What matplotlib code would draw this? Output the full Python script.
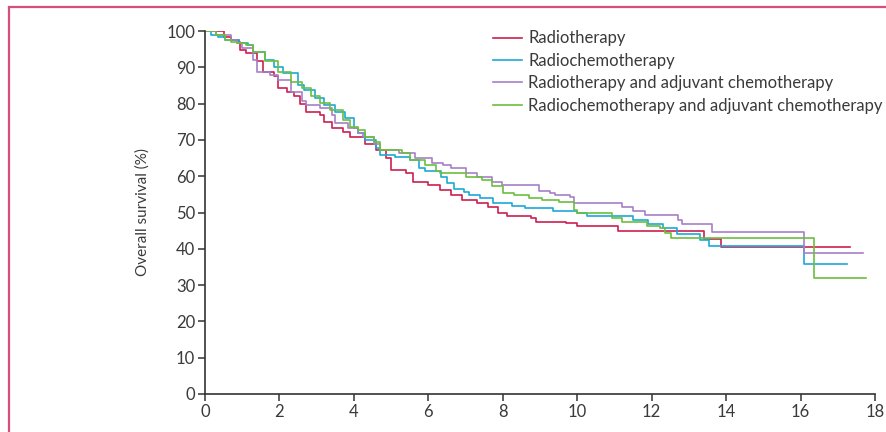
import matplotlib
matplotlib.use("Agg")
import matplotlib.pyplot as plt
from matplotlib.patches import Rectangle

# Kaplan-Meier step curves: time (years) where each level starts, survival (%)
rt_time = [0, 0.5, 0.7, 0.9, 0.95, 1.1, 1.4, 1.55, 1.85, 1.95, 2.2, 2.4, 2.55, 2.7,
           3.1, 3.2, 3.4, 3.7, 3.9, 4.3, 4.6, 4.85, 5.0, 5.4, 5.6, 6.0, 6.3, 6.6,
           6.9, 7.3, 7.6, 7.87, 8.1, 8.75, 8.9, 9.7, 10.0, 11.1, 13.4, 13.87, 17.34]
rt_surv = [100, 98.4, 97.5, 97.0, 94.8, 93.9, 91.6, 88.8, 87.5, 84.2, 83.3, 82.0, 80.0, 77.8,
           76.9, 75.0, 73.2, 72.3, 70.9, 69.0, 67.2, 64.9, 61.7, 60.8, 58.5, 57.6, 56.2, 54.8,
           53.4, 52.5, 51.6, 49.8, 48.9, 48.4, 47.5, 47.0, 46.3, 45.0, 42.6, 40.4, 40.4]

rct_time = [0, 0.15, 0.35, 0.55, 0.9, 1.15, 1.3, 1.6, 1.85, 2.1, 2.5, 2.65, 2.95, 3.2,
            3.5, 3.75, 4.0, 4.1, 4.3, 4.6, 4.7, 5.1, 5.5, 5.75, 5.9, 6.35, 6.5, 6.7,
            6.95, 7.1, 7.4, 7.75, 8.24, 8.6, 9.36, 10.0, 10.26, 11.5, 11.9, 12.3, 12.68,
            13.3, 13.55, 16.1, 17.25]
rct_surv = [100, 99.0, 98.4, 97.5, 96.6, 96.1, 94.3, 92.0, 90.2, 88.3, 85.1, 83.7, 81.5, 79.6,
            77.8, 75.9, 73.2, 71.8, 70.0, 67.7, 65.8, 65.4, 64.5, 62.2, 61.3, 59.9, 58.0, 56.6,
            55.7, 54.8, 53.9, 52.7, 51.8, 51.3, 50.3, 49.8, 48.9, 47.9, 46.8, 45.8, 44.2,
            42.4, 40.8, 35.8, 35.8]

rt_ac_time = [0, 0.3, 0.7, 0.85, 1.0, 1.3, 1.4, 1.75, 1.95, 2.3, 2.6, 2.7, 3.1, 3.4,
              3.5, 3.85, 4.1, 4.24, 4.54, 4.7, 5.2, 5.63, 6.1, 6.4, 6.6, 7.0, 7.3, 7.7,
              7.97, 8.96, 9.27, 9.4, 9.81, 9.92, 11.2, 11.5, 11.83, 12.7, 12.82, 13.63,
              16.1, 17.67]
rt_ac_surv = [100, 98.8, 97.5, 96.6, 95.2, 92.0, 88.8, 87.9, 86.5, 83.3, 80.6, 79.6, 78.7, 76.9,
              74.6, 73.2, 71.8, 70.9, 69.0, 67.2, 66.3, 64.9, 63.5, 63.1, 62.2, 60.8, 59.9, 58.5,
              57.6, 56.0, 55.3, 54.8, 54.2, 52.7, 51.6, 50.5, 49.3, 47.9, 46.7, 44.5,
              38.8, 38.8]

rct_ac_time = [0, 0.3, 0.55, 0.7, 0.85, 1.1, 1.3, 1.6, 1.95, 2.3, 2.6, 2.85, 3.1, 3.35,
               3.7, 3.9, 4.1, 4.3, 4.54, 4.7, 5.3, 5.5, 5.9, 6.2, 6.3, 7.0, 7.45, 7.7,
               8.0, 8.3, 8.7, 9.05, 9.5, 9.92, 10.0, 10.93, 11.2, 11.87, 12.23, 12.37,
               12.53, 16.37, 17.77]
rct_ac_surv = [100, 98.8, 97.5, 97.0, 96.6, 96.1, 94.3, 91.6, 88.8, 86.0, 84.2, 82.0, 80.1, 78.3,
               75.5, 73.6, 72.7, 70.9, 69.5, 67.2, 66.3, 64.5, 63.1, 61.3, 60.8, 59.9, 59.0, 57.2,
               55.3, 54.8, 53.9, 53.5, 53.0, 50.7, 49.8, 48.5, 47.5, 46.3, 45.6, 44.3,
               42.9, 31.9, 31.9]

labels = ["Radiotherapy", "Radiochemotherapy",
          "Radiotherapy and adjuvant chemotherapy",
          "Radiochemotherapy and adjuvant chemotherapy"]
colors = ["#cc1f4f", "#1ba9d8", "#a57fc8", "#6cbf3e"]

x_ticks = list(range(0, 19, 2))
y_ticks = list(range(0, 101, 10))

plt.rcParams['font.family'] = ['Lato', 'DejaVu Sans']
txt = "#3a3a3a"

fig = plt.figure(figsize=(8.86, 4.32), dpi=100)
ax = fig.add_axes([205/886, 1-394/432, (875-205)/886, (394-31)/432])

series = [(rt_time, rt_surv), (rct_time, rct_surv),
          (rt_ac_time, rt_ac_surv), (rct_ac_time, rct_ac_surv)]
for (t, s), lab, c in zip(series, labels, colors):
    ax.step(t, s, where="post", color=c, lw=1.2, label=lab)

ax.set_xlim(0, 18)
ax.set_ylim(0, 100)
ax.set_xticks(x_ticks)
ax.set_yticks(y_ticks)
for side in ["top", "right"]:
    ax.spines[side].set_visible(False)
for side in ["left", "bottom"]:
    ax.spines[side].set_color("#333333")
    ax.spines[side].set_linewidth(1.2)
ax.tick_params(direction="out", length=5, width=1.1, color="#333333",
               labelsize=12, labelcolor=txt, pad=2)
ax.set_ylabel("Overall survival (%)", fontsize=11, color=txt, labelpad=12)

leg = ax.legend(loc="upper left", bbox_to_anchor=(493/886, 1-30.5/432),
                bbox_transform=fig.transFigure, frameon=False, fontsize=12,
                handlelength=1.75, handletextpad=0.38, labelspacing=0.38,
                borderaxespad=0, borderpad=0)
for t in leg.get_texts():
    t.set_color(txt)

# pink frame of the original figure panel
fig.add_artist(Rectangle((9/886, -0.1), 1.2, 1-7/432+0.1, transform=fig.transFigure,
                         fill=False, edgecolor="#d64f78", lw=1.6))

fig.savefig("out.png", dpi=100)
